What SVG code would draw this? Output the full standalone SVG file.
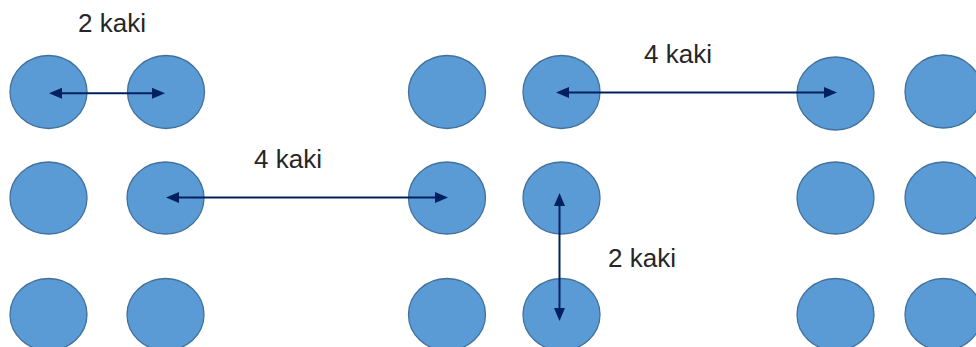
<svg xmlns="http://www.w3.org/2000/svg" width="976" height="347" viewBox="0 0 976 347">
  <style>
    .dot { fill: #5B9BD5; stroke: #41719C; stroke-width: 1.3; }
    .conn { stroke: #002060; stroke-width: 2; fill: none; marker-start: url(#ah); marker-end: url(#ah); }
    .lbl { font-family: "Liberation Sans", Arial, sans-serif; font-size: 26px; fill: #262626; }
  </style>
  <defs>
    <marker id="ah" viewBox="0 0 13 11" refX="9" refY="5.5" markerWidth="13" markerHeight="11" markerUnits="userSpaceOnUse" orient="auto-start-reverse">
      <path d="M0,0 L13,5.5 L0,11 z" fill="#002060"/>
    </marker>
  </defs>
  <rect width="976" height="347" fill="#ffffff"/>

  <g id="r1c1"><ellipse class="dot" cx="48.5" cy="92" rx="38.5" ry="36.5"/></g>
  <g id="r1c2"><ellipse class="dot" cx="166" cy="92" rx="38.5" ry="36.5"/></g>
  <g id="r1c3"><ellipse class="dot" cx="447" cy="92" rx="38.5" ry="36.5"/></g>
  <g id="r1c4"><ellipse class="dot" cx="561.5" cy="92" rx="38.5" ry="36.5"/></g>
  <g id="r1c5"><ellipse class="dot" cx="835.5" cy="93.5" rx="38.5" ry="36.5"/></g>
  <g id="r1c6"><ellipse class="dot" cx="943.5" cy="91.5" rx="38.5" ry="36.5"/></g>

  <g id="r2c1"><ellipse class="dot" cx="48.5" cy="198" rx="38.5" ry="36"/></g>
  <g id="r2c2"><ellipse class="dot" cx="165.5" cy="198" rx="38.5" ry="36"/></g>
  <g id="r2c3"><ellipse class="dot" cx="447" cy="198" rx="38.5" ry="36"/></g>
  <g id="r2c4"><ellipse class="dot" cx="561.5" cy="198" rx="38.5" ry="36"/></g>
  <g id="r2c5"><ellipse class="dot" cx="835.5" cy="198" rx="38.5" ry="36"/></g>
  <g id="r2c6"><ellipse class="dot" cx="943.5" cy="198" rx="38.5" ry="36"/></g>

  <g id="r3c1"><ellipse class="dot" cx="48.5" cy="314.5" rx="38.5" ry="36"/></g>
  <g id="r3c2"><ellipse class="dot" cx="165.5" cy="314.5" rx="38.5" ry="36"/></g>
  <g id="r3c3"><ellipse class="dot" cx="447" cy="314.5" rx="38.5" ry="36"/></g>
  <g id="r3c4"><ellipse class="dot" cx="561.5" cy="314.5" rx="38.5" ry="36"/></g>
  <g id="r3c5"><ellipse class="dot" cx="835.5" cy="314.5" rx="38.5" ry="36"/></g>
  <g id="r3c6"><ellipse class="dot" cx="943.5" cy="314.5" rx="38.5" ry="36"/></g>

  <g id="connectors">
    <line class="conn" x1="53" y1="93.3" x2="161" y2="93.3"/>
    <line class="conn" x1="560" y1="92.5" x2="833" y2="92.5"/>
    <line class="conn" x1="170" y1="197.5" x2="444" y2="197.5"/>
    <line class="conn" x1="559.5" y1="197" x2="559.5" y2="317"/>
  </g>

  <g id="labels">
    <text class="lbl" x="78" y="31.5">2 kaki</text>
    <text class="lbl" x="644" y="63.3">4 kaki</text>
    <text class="lbl" x="254" y="168.3">4 kaki</text>
    <text class="lbl" x="608" y="266.7">2 kaki</text>
  </g>
</svg>
